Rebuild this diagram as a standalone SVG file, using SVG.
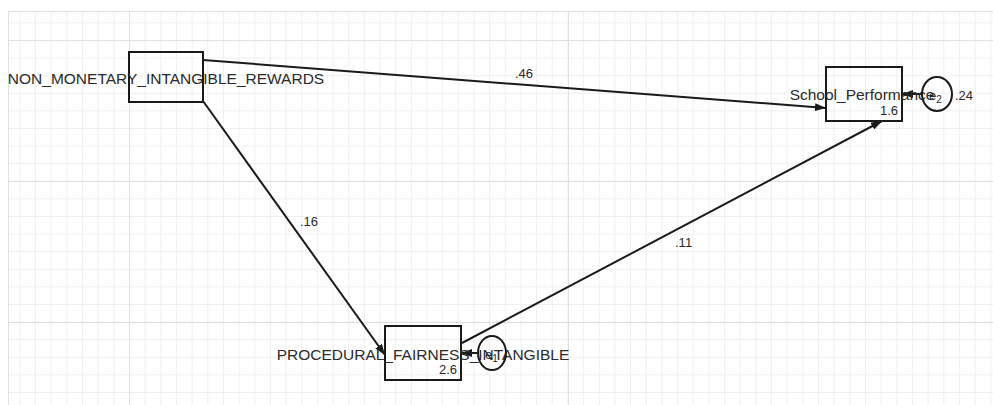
<svg xmlns="http://www.w3.org/2000/svg" width="993" height="405" viewBox="0 0 993 405">
<style>
.box{fill:none;stroke:#1a1a1a;stroke-width:2}
.ell{fill:none;stroke:#1a1a1a;stroke-width:2}
.lbl{font-family:"Liberation Sans",Arial,sans-serif;font-size:15.5px;fill:#2a2a2a;text-anchor:middle}
.val{font-family:"Liberation Sans",Arial,sans-serif;font-size:13px;fill:#2a2a2a}
.edge{stroke:#1a1a1a;stroke-width:2;fill:none;marker-end:url(#arr)}
</style>
<defs>
<pattern id="grid" patternUnits="userSpaceOnUse" x="3.7" y="4.8" width="15.66" height="17.6">
<path d="M0.5,0 V17.6 M0,0.5 H15.66" stroke="#efefef" stroke-width="1" fill="none"/>
</pattern>
<marker id="arr" markerUnits="userSpaceOnUse" markerWidth="11" markerHeight="8" refX="11" refY="4" orient="auto">
<path d="M0,0 L11,4 L0,8 z" fill="#1a1a1a"/>
</marker>
</defs>
<rect width="993" height="405" fill="#ffffff"/>
<rect x="8" y="11" width="985" height="394" fill="url(#grid)"/>
<g stroke="#e0e0e0" stroke-width="1">
<line x1="8" y1="11.5" x2="993" y2="11.5"/>
<line x1="8.5" y1="11" x2="8.5" y2="405"/>
<line x1="129.5" y1="11" x2="129.5" y2="405"/>
<line x1="568.5" y1="11" x2="568.5" y2="405"/>
<line x1="8" y1="40.5" x2="993" y2="40.5"/>
<line x1="8" y1="181.5" x2="993" y2="181.5"/>
<line x1="8" y1="322.5" x2="993" y2="322.5"/>
</g>
<g id="connectors">
<line class="edge" x1="203" y1="60" x2="826" y2="108"/>
<line class="edge" x1="203" y1="101" x2="385" y2="355"/>
<line class="edge" x1="462" y1="343" x2="882" y2="121"/>
<line class="edge" x1="922" y1="94" x2="902" y2="94"/>
<line class="edge" x1="478" y1="353" x2="461" y2="353"/>
<text class="val" x="515" y="78">.46</text>
<text class="val" x="300" y="226">.16</text>
<text class="val" x="675" y="247">.11</text>
</g>
<g id="node-nmir">
<rect class="box" x="129" y="52" width="74" height="50"/>
<text class="lbl" x="166" y="84">NON_MONETARY_INTANGIBLE_REWARDS</text>
</g>
<g id="node-sp">
<rect class="box" x="826" y="67" width="76" height="54"/>
<text class="lbl" x="862" y="100">School_Performance</text>
<text class="val" x="898" y="115" text-anchor="end">1.6</text>
</g>
<g id="node-pfi">
<rect class="box" x="385" y="326" width="76" height="54"/>
<text class="lbl" x="423" y="360">PROCEDURAL_FAIRNESS_INTANGIBLE</text>
<text class="val" x="457" y="374" text-anchor="end">2.6</text>
</g>
<g id="node-e2">
<ellipse class="ell" cx="937" cy="94" rx="15" ry="17"/>
<text class="val" x="929" y="100" font-size="14">e<tspan font-size="10" dy="3">2</tspan></text>
<text class="val" x="955" y="100">.24</text>
</g>
<g id="node-e1">
<ellipse class="ell" cx="492" cy="353" rx="14" ry="17"/>
<text class="val" x="485" y="359" font-size="14">e<tspan font-size="10" dy="3">1</tspan></text>
</g>
</svg>
